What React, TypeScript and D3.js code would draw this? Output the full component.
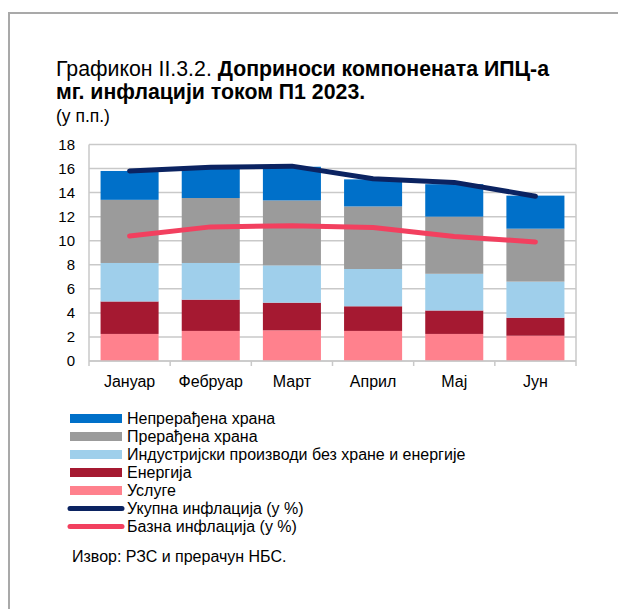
import React from 'react';
import * as d3 from 'd3';

const categories = ['Јануар', 'Фебруар', 'Март', 'Април', 'Мај', 'Јун'];
const services = [2.25, 2.5, 2.55, 2.5, 2.25, 2.1];
const energy = [2.7, 2.6, 2.3, 2.05, 1.95, 1.5];
const industrial = [3.2, 3.05, 3.1, 3.1, 3.05, 3.0];
const processedFood = [5.25, 5.4, 5.4, 5.2, 4.75, 4.4];
const unprocessedFood = [2.4, 2.45, 2.8, 2.25, 2.7, 2.75];
const totalInflation = [15.8, 16.1, 16.2, 15.15, 14.85, 13.7];
const coreInflation = [10.4, 11.15, 11.25, 11.1, 10.35, 9.9];
const yTicks = [0, 2, 4, 6, 8, 10, 12, 14, 16, 18];

const seriesKeys = ['services', 'energy', 'industrial', 'processed', 'unprocessed'];
const seriesColors: Record<string, string> = {
  services: '#ff818d',
  energy: '#a51931',
  industrial: '#9fcfeb',
  processed: '#9b9b9b',
  unprocessed: '#0070c9',
};
const totalColor = '#0b2361';
const coreColor = '#f2405f';

const legendItems = [
  { label: 'Непрерађена храна', color: seriesColors.unprocessed, type: 'bar' },
  { label: 'Прерађена храна', color: seriesColors.processed, type: 'bar' },
  { label: 'Индустријски производи без хране и енергије', color: seriesColors.industrial, type: 'bar' },
  { label: 'Енергија', color: seriesColors.energy, type: 'bar' },
  { label: 'Услуге', color: seriesColors.services, type: 'bar' },
  { label: 'Укупна инфлација (у %)', color: totalColor, type: 'line' },
  { label: 'Базна инфлација (у %)', color: coreColor, type: 'line' },
];

const FONT = '"Liberation Sans", Arial, sans-serif';

export default function App() {
  const W = 618, H = 609;
  const left = 89, right = 576, top = 144.5, bottom = 361;

  const x = d3.scaleBand<string>().domain(categories).range([left, right]).paddingInner(0).paddingOuter(0);
  const y = d3.scaleLinear().domain([0, 18]).range([bottom, top]);
  const step = x.step();
  const bw = step * 0.715;

  const table = categories.map((c, i) => ({
    cat: c,
    services: services[i],
    energy: energy[i],
    industrial: industrial[i],
    processed: processedFood[i],
    unprocessed: unprocessedFood[i],
  }));
  const stacked = d3.stack<any>().keys(seriesKeys)(table);

  const cx = (c: string) => (x(c) as number) + step / 2;
  const line = d3
    .line<number>()
    .x((_, i) => cx(categories[i]))
    .y((d) => y(d));

  return (
    <svg width={W} height={H} style={{ position: 'absolute', left: 0, top: 0, background: '#fff' }} fontFamily={FONT}>
      <rect x={0} y={0} width={W} height={H} fill="#fff" />
      {/* outer frame */}
      <rect x={9} y={13} width={W + 20} height={H + 20} fill="none" stroke="#a9a9a9" strokeWidth={2} />

      {/* title */}
      <text x={56} y={76} fontSize={21.3} fill="#000">
        <tspan>Графикон II.3.2. </tspan>
        <tspan fontWeight="bold">Доприноси компонената ИПЦ-а</tspan>
      </text>
      <text x={56} y={99} fontSize={21.3} fill="#000" fontWeight="bold">
        мг. инфлацији током П1 2023.
      </text>
      <text x={56} y={122} fontSize={17.5} fill="#000">
        (у п.п.)
      </text>

      {/* gridlines */}
      {yTicks.map((t) => (
        <line key={t} x1={left} x2={right} y1={y(t)} y2={y(t)} stroke="#c9c9c9" strokeWidth={1.5} />
      ))}
      <line x1={left} x2={left} y1={top} y2={bottom} stroke="#c9c9c9" strokeWidth={1.5} />
      <line x1={right} x2={right} y1={top} y2={bottom} stroke="#c9c9c9" strokeWidth={1.5} />

      {/* bars */}
      {stacked.map((s) => (
        <g key={s.key} fill={seriesColors[s.key]}>
          {s.map((d, i) => (
            <rect
              key={i}
              x={cx(categories[i]) - bw / 2}
              width={bw}
              y={y(d[1])}
              height={y(d[0]) - y(d[1])}
            />
          ))}
        </g>
      ))}

      {/* x axis ticks */}
      {d3.range(categories.length + 1).map((i) => (
        <line key={i} x1={left + i * step} x2={left + i * step} y1={bottom} y2={bottom + 5} stroke="#c9c9c9" strokeWidth={1.5} />
      ))}
      <line x1={left} x2={right} y1={bottom} y2={bottom} stroke="#c9c9c9" strokeWidth={1.5} />

      {/* lines */}
      <path d={line(totalInflation) || ''} fill="none" stroke={totalColor} strokeWidth={5} strokeLinecap="round" strokeLinejoin="round" />
      <path d={line(coreInflation) || ''} fill="none" stroke={coreColor} strokeWidth={5} strokeLinecap="round" strokeLinejoin="round" />

      {/* y labels */}
      {yTicks.map((t) => (
        <text key={t} x={75} y={y(t)} dy="0.35em" textAnchor="end" fontSize={15} fill="#000">
          {t}
        </text>
      ))}
      {/* x labels */}
      {categories.map((c) => (
        <text key={c} x={cx(c)} y={387} textAnchor="middle" fontSize={16} fill="#000">
          {c}
        </text>
      ))}

      {/* legend */}
      {legendItems.map((it, i) => {
        const ly = 418.5 + i * 18;
        return (
          <g key={it.label}>
            {it.type === 'bar' ? (
              <rect x={70} y={ly - 4.5} width={52} height={9} fill={it.color} />
            ) : (
              <line x1={70} x2={122} y1={ly} y2={ly} stroke={it.color} strokeWidth={5} strokeLinecap="round" />
            )}
            <text x={127} y={ly} dy="0.35em" fontSize={16} fill="#000">
              {it.label}
            </text>
          </g>
        );
      })}

      <text x={72} y={562} fontSize={16} fill="#000">
        Извор: РЗС и прерачун НБС.
      </text>
    </svg>
  );
}
